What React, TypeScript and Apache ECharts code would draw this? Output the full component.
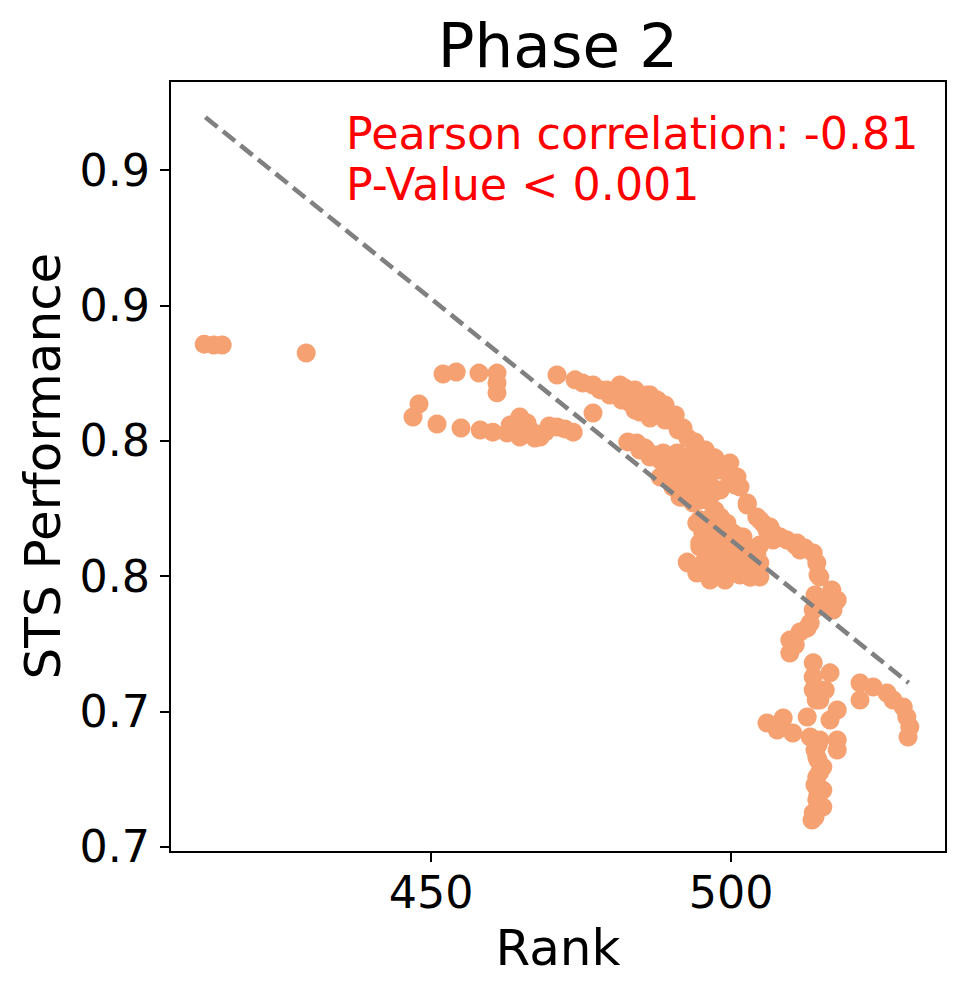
import React, { useEffect, useRef } from "react";
import * as echarts from "echarts";

// Rank (x) and STS performance (y) for each model
const ranks = [
  412.2, 413.8, 415.2, 429.2,
  452.0, 454.2, 458.0, 461.0, 461.0, 461.0,
  448.0, 447.0, 451.0, 455.0, 458.2, 460.3, 462.7, 463.7, 464.8, 465.3, 466.5, 467.0, 468.2, 464.8, 469.7, 471.0, 472.3, 473.7, 477.0,
  463.2, 466.0, 467.3, 469.0,
  471.0, 474.0, 477.0, 479.3, 481.0, 482.3, 482.8, 484.3, 486.0, 487.7, 483.2, 484.8, 486.5, 488.2, 489.8, 492.0, 493.8, 481.8, 485.7, 487.3,
  483.2, 485.7, 487.3, 484.8, 488.5,
  479.8, 481.5, 484.0, 486.5, 489.0, 490.7, 484.0, 486.5, 489.0, 491.2, 492.8, 478.2, 475.3,
  482.8, 484.3, 485.7, 486.5, 488.7, 491.0, 493.2, 494.8, 496.5, 499.8, 501.0, 501.5, 488.2, 489.5, 490.3, 492.0, 493.7, 496.0, 497.0, 498.2,
  502.7, 504.3, 506.5, 507.0, 498.2, 494.8, 495.3, 496.0, 497.0, 492.8, 494.3, 496.5, 499.3, 501.5, 503.7, 504.8, 502.7, 500.3, 494.3, 499.3,
  504.8, 494.8, 502.0, 497.0, 493.2, 491.5, 494.8, 497.3,
  488.2, 490.7, 493.2, 494.8, 492.3, 497.3, 495.7, 499.0, 501.5, 498.2,
  491.5, 494.0, 492.0, 495.3, 500.7, 491.5, 506.0, 499.3, 502.0, 496.5, 503.2, 504.8, 504.3, 499.3,
  484.8, 487.3, 489.8, 492.3, 494.8, 496.5, 498.2, 499.0, 497.3, 495.7, 494.0,
  496.0, 498.7, 501.5, 502.7, 494.8, 498.2, 500.3, 505.3, 507.0, 511.0, 502.7, 499.8, 493.7, 492.7, 497.0,
  503.2, 504.3, 514.5, 497.3, 499.8, 502.5, 495.7, 499.0, 504.8,
  509.3, 511.5, 513.7, 514.3, 514.8, 516.8, 517.7, 517.0, 513.7, 513.2, 512.7, 509.8, 509.8, 510.7, 512.3, 508.2,
  514.0, 515.7, 511.5, 510.7,
  513.7, 516.5, 513.7, 513.7, 514.8, 517.7, 516.5, 512.7, 508.7, 506.0, 507.7, 510.3, 513.2, 514.8, 517.7, 517.7,
  515.7, 514.2,
  514.3, 515.3, 514.3, 515.3, 514.3, 515.3, 513.7, 513.5, 514.5, 514.0,
  514.0, 514.5, 514.8, 514.5, 514.8, 514.0,
  521.5, 521.5, 523.7, 526.0, 527.0, 528.7, 529.3, 529.8, 529.5,
];

const scores = [
  0.8857, 0.8854, 0.8854, 0.8824,
  0.8747, 0.8754, 0.8750, 0.8750, 0.8713, 0.8677,
  0.8636, 0.8588, 0.8562, 0.8547, 0.8540, 0.8532, 0.8529, 0.8540, 0.8588, 0.8551, 0.8540, 0.8529, 0.8514, 0.8514, 0.8555, 0.8551, 0.8544, 0.8532, 0.8603,
  0.8558, 0.8566, 0.8510, 0.8532,
  0.8743, 0.8725, 0.8706, 0.8688, 0.8680, 0.8695, 0.8669, 0.8662, 0.8669, 0.8651, 0.8640, 0.8621, 0.8614, 0.8595, 0.8577, 0.8547, 0.8492, 0.8651, 0.8643, 0.8632,
  0.8669, 0.8651, 0.8614, 0.8606, 0.8632,
  0.8669, 0.8706, 0.8688, 0.8669, 0.8632, 0.8595, 0.8614, 0.8584, 0.8577, 0.8540, 0.8510, 0.8688, 0.8713,
  0.8496, 0.8492, 0.8473, 0.8440, 0.8455, 0.8455, 0.8429, 0.8403, 0.8381, 0.8418, 0.8366, 0.8329, 0.8366, 0.8392, 0.8329, 0.8292, 0.8270, 0.8281, 0.8307, 0.8392,
  0.8263, 0.8219, 0.8182, 0.8134, 0.8219, 0.8208, 0.8160, 0.8108, 0.8071, 0.8049, 0.8012, 0.7986, 0.8012, 0.8060, 0.8034, 0.7997, 0.8086, 0.8160, 0.8196, 0.8182,
  0.8208, 0.8123, 0.8123, 0.8086, 0.8374, 0.8411, 0.8337, 0.8244,
  0.8429, 0.8392, 0.8318, 0.8281, 0.8355, 0.8171, 0.8060, 0.8115, 0.8004, 0.8041,
  0.8551, 0.8496, 0.8440, 0.8418, 0.8337, 0.8292, 0.8171, 0.8196, 0.8145, 0.8160, 0.7997, 0.8049, 0.8086, 0.8086,
  0.8466, 0.8448, 0.8422, 0.8392, 0.8374, 0.8337, 0.8318, 0.8392, 0.8437, 0.8466, 0.8448,
  0.8208, 0.8196, 0.8145, 0.8108, 0.8108, 0.8071, 0.8034, 0.8196, 0.8160, 0.8123, 0.8270, 0.8344, 0.8318, 0.8052, 0.7997,
  0.7997, 0.8071, 0.8004, 0.8134, 0.8097, 0.8041, 0.8041, 0.7986, 0.8115,
  0.8134, 0.8097, 0.8086, 0.8049, 0.7997, 0.7949, 0.7912, 0.7875, 0.7875, 0.7827, 0.7809, 0.7764, 0.7716, 0.8115, 0.8104, 0.8145,
  0.7931, 0.7894, 0.7794, 0.7746,
  0.7680, 0.7643, 0.7628, 0.7580, 0.7543, 0.7506, 0.7469, 0.7480, 0.7476, 0.7458, 0.7432, 0.7421, 0.7406, 0.7395, 0.7395, 0.7358,
  0.7580, 0.7543,
  0.7332, 0.7295, 0.7258, 0.7210, 0.7174, 0.7148, 0.7126, 0.7100, 0.7377, 0.7229,
  0.7358, 0.7321, 0.7277, 0.7192, 0.7155, 0.7111,
  0.7606, 0.7543, 0.7591, 0.7569, 0.7543, 0.7517, 0.7480, 0.7443, 0.7406,
];

// Regression line endpoints
const fitRanks = [412.4, 529.6];
const fitScores = [0.9695, 0.7606];

const xTicks = [450, 500];
const yTicks = [0.7, 0.75, 0.8, 0.85, 0.9, 0.95];

const titleText = "Phase 2";
const xName = "Rank";
const yName = "STS Performance";
const annotation = ["Pearson correlation: -0.81", "P-Value < 0.001"];

const FONT = "'DejaVu Sans', sans-serif";

export default function App() {
  const ref = useRef<HTMLDivElement>(null);

  useEffect(() => {
    document.body.style.margin = "0";
    const chart = echarts.init(ref.current!, null, { renderer: "svg" });
    const points = ranks.map((r, i) => [r, scores[i]]);
    const fit = fitRanks.map((r, i) => [r, fitScores[i]]);

    chart.setOption({
      animation: false,
      backgroundColor: "#ffffff",
      grid: {
        left: 170,
        top: 81,
        width: 776,
        height: 771,
        show: true,
        borderColor: "#000",
        borderWidth: 2,
        backgroundColor: "transparent",
      },
      xAxis: {
        type: "value",
        min: 406.5,
        max: 535.83,
        splitLine: { show: false },
        axisLine: { show: true, lineStyle: { color: "#000", width: 2 } },
        axisTick: {
          show: true,
          length: 10,
          customValues: xTicks,
          lineStyle: { color: "#000", width: 2 },
        },
        axisLabel: {
          customValues: xTicks,
          fontSize: 44.4,
          fontFamily: FONT,
          color: "#000",
          margin: 18,
          formatter: (v: number) => String(Math.round(v)),
        },
      },
      yAxis: {
        type: "value",
        min: 0.69815,
        max: 0.98287,
        splitLine: { show: false },
        axisLine: { show: true, lineStyle: { color: "#000", width: 2 } },
        axisTick: {
          show: true,
          length: 10,
          customValues: yTicks,
          lineStyle: { color: "#000", width: 2 },
        },
        axisLabel: {
          customValues: yTicks,
          fontSize: 44.4,
          fontFamily: FONT,
          color: "#000",
          margin: 20,
          formatter: (v: number) => (Math.floor(v * 10 + 1e-6) / 10).toFixed(1),
        },
      },
      series: [
        {
          type: "scatter",
          data: points,
          symbolSize: 19,
          itemStyle: { color: "#F6A172", opacity: 1 },
          z: 2,
        },
        {
          type: "line",
          data: fit,
          symbol: "none",
          lineStyle: { color: "#808080", width: 4.6, type: [15.5, 7] },
          z: 3,
        },
      ],
      graphic: [
        {
          type: "text",
          x: 558,
          y: 45,
          style: {
            text: titleText,
            fontSize: 61,
            fontFamily: FONT,
            fill: "#000",
            align: "center",
            verticalAlign: "middle",
          },
        },
        {
          type: "text",
          x: 558,
          y: 948,
          style: {
            text: xName,
            fontSize: 50,
            fontFamily: FONT,
            fill: "#000",
            align: "center",
            verticalAlign: "middle",
          },
        },
        {
          type: "text",
          x: 43,
          y: 466,
          rotation: Math.PI / 2,
          style: {
            text: yName,
            fontSize: 50,
            fontFamily: FONT,
            fill: "#000",
            align: "center",
            verticalAlign: "middle",
          },
        },
        {
          type: "text",
          x: 346,
          y: 133,
          z: 10,
          style: {
            text: annotation[0],
            fontSize: 44.4,
            fontFamily: FONT,
            fill: "#ff0000",
            align: "left",
            verticalAlign: "middle",
          },
        },
        {
          type: "text",
          x: 346,
          y: 184,
          z: 10,
          style: {
            text: annotation[1],
            fontSize: 44.4,
            fontFamily: FONT,
            fill: "#ff0000",
            align: "left",
            verticalAlign: "middle",
          },
        },
      ],
    });

    return () => chart.dispose();
  }, []);

  return <div ref={ref} style={{ width: 964, height: 994 }} />;
}
